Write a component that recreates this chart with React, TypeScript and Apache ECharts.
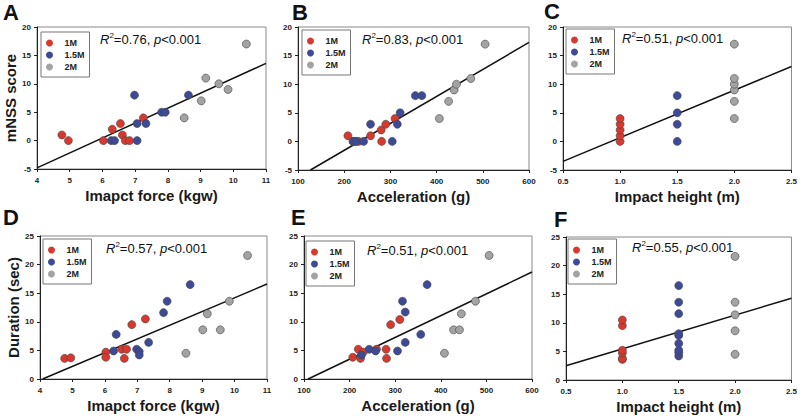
import React, { useEffect, useRef } from 'react';
import * as echarts from 'echarts';

const groups = ['1M', '1.5M', '2M'];
const groupColors = ['#d8392e', '#3d4a98', '#a3a3a3'];

// A: impact force vs mNSS
const forceMnss1M = [[4.76, 1], [4.96, 0], [6.03, 0], [6.3, 2], [6.55, 3], [6.61, 1], [6.7, 0], [6.83, 0], [7.25, 4]];
const forceMnss15M = [[6.27, 0], [6.37, 0], [6.98, 8], [7.06, 3], [7.06, 0], [7.33, 3], [7.81, 5], [7.92, 5], [8.63, 8]];
const forceMnss2M = [[8.5, 4], [9.02, 7], [9.16, 11], [9.56, 10], [9.84, 9], [10.4, 17]];
// B: acceleration vs mNSS
const accMnss1M = [[208, 1], [219, 0], [224, 0], [231, 0], [257, 1], [280, 2], [281, 0], [290, 3], [310, 4]];
const accMnss15M = [[220, 0], [226, 0], [242, 0], [257, 3], [304, 0], [315, 3], [321, 5], [354, 8], [368, 8]];
const accMnss2M = [[406, 4], [426, 7], [438, 9], [443, 10], [474, 11], [505, 17]];
// C: impact height vs mNSS
const hMnss1M = [[1, 0], [1, 1], [1, 2], [1, 3], [1, 4]];
const hMnss15M = [[1.5, 0], [1.5, 3], [1.5, 5], [1.5, 8]];
const hMnss2M = [[2, 4], [2, 7], [2, 9], [2, 10], [2, 11], [2, 17]];
// D: impact force vs duration
const forceDur1M = [[4.76, 3.6], [4.95, 3.7], [6.03, 4.7], [6.03, 3.8], [6.52, 5.2], [6.67, 5.2], [6.6, 3.6], [6.83, 9.5], [7.25, 10.5]];
const forceDur15M = [[6.27, 4.9], [6.35, 7.8], [6.98, 5.2], [7.06, 4.8], [7.06, 4.2], [7.35, 6.4], [7.81, 11.6], [7.92, 13.6], [8.63, 16.5]];
const forceDur2M = [[8.5, 4.5], [9.02, 8.6], [9.16, 11.4], [9.56, 8.6], [9.84, 13.6], [10.4, 21.6]];
// E: acceleration vs duration
const accDur1M = [[207, 3.8], [219, 5.2], [224, 3.6], [230, 4.7], [259, 5.2], [280, 5.2], [281, 3.6], [290, 9.5], [310, 10.4]];
const accDur15M = [[226, 4.2], [243, 5.2], [257, 4.9], [305, 4.9], [316, 13.6], [322, 11.7], [322, 6.4], [356, 7.8], [370, 16.5]];
const accDur2M = [[408, 4.5], [428, 8.6], [441, 8.6], [445, 11.4], [476, 13.6], [506, 21.6]];
// F: impact height vs duration
const hDur1M = [[1, 3.6], [1, 3.8], [1, 4.7], [1, 5.2], [1, 9.5], [1, 10.5]];
const hDur15M = [[1.5, 4.2], [1.5, 4.8], [1.5, 5.2], [1.5, 6.4], [1.5, 7.8], [1.5, 8.1], [1.5, 11.6], [1.5, 13.6], [1.5, 16.5]];
const hDur2M = [[2, 4.5], [2, 8.6], [2, 11.4], [2, 13.6], [2, 21.6]];

// Regression lines (endpoints)
const fitA = [[4, -4.8], [11, 13.6]];
const fitB = [[127, -5], [600, 17.3]];
const fitC = [[0.5, -3.5], [2.5, 13.1]];
const fitD = [[4.08, 0], [11, 16.6]];
const fitE = [[109, 0], [600, 18.7]];
const fitF = [[0.5, 2.5], [2.5, 14.3]];

const panelLetters = ['A', 'B', 'C', 'D', 'E', 'F'];
const r2Values = ['0.76', '0.83', '0.51', '0.57', '0.51', '0.55'];
const xNames = ['Imapct force (kgw)', 'Acceleration (g)', 'Impact height (m)'];
const yNames = ['mNSS score', 'Duration (sec)'];
const xRanges = [[4, 11, 1], [100, 600, 100], [0.5, 2.5, 0.5]];
const yRanges = [[-5, 20, 5], [0, 25, 5]];

const panelData = [
  [forceMnss1M, forceMnss15M, forceMnss2M, fitA],
  [accMnss1M, accMnss15M, accMnss2M, fitB],
  [hMnss1M, hMnss15M, hMnss2M, fitC],
  [forceDur1M, forceDur15M, forceDur2M, fitD],
  [accDur1M, accDur15M, accDur2M, fitE],
  [hDur1M, hDur15M, hDur2M, fitF],
];

const grids = [
  { left: 37, top: 27, width: 229, height: 142 },
  { left: 298, top: 27, width: 231, height: 143 },
  { left: 563, top: 27, width: 230, height: 143 },
  { left: 40, top: 236, width: 227, height: 143 },
  { left: 304, top: 236, width: 228, height: 143 },
  { left: 566, top: 237, width: 230, height: 143 },
];
const legendPos = [
  [41, 32], [302, 30], [566, 29], [43, 239], [306, 241], [568, 239],
];
const letterPos = [
  [3, 12], [292, 12], [544, 11], [3, 217], [291, 217], [554, 219],
];
const r2Pos = [
  [100, 39], [362, 39], [622, 38], [106, 248], [367, 250], [632, 247],
];

const FONT = 'Arial, "Liberation Sans", Helvetica, sans-serif';

export default function App() {
  const ref = useRef<HTMLDivElement>(null);
  useEffect(() => {
    if (!ref.current) return;
    const chart = echarts.init(ref.current, null, { renderer: 'svg' });
    const xAxis: any[] = [];
    const yAxis: any[] = [];
    const series: any[] = [];
    const legend: any[] = [];
    const graphic: any[] = [];
    grids.forEach((g, i) => {
      const col = i % 3;
      const row = Math.floor(i / 3);
      const [xmin, xmax, xint] = xRanges[col];
      const [ymin, ymax, yint] = yRanges[row];
      xAxis.push({
        type: 'value', gridIndex: i, min: xmin, max: xmax, interval: xint,
        name: xNames[col], nameLocation: 'middle', nameGap: 19,
        nameTextStyle: { fontFamily: FONT, fontSize: 15, fontWeight: 'bold', color: '#1a1a1a' },
        axisLine: { show: true, onZero: false, lineStyle: { color: '#222', width: 1 } },
        axisTick: { show: true, length: 3, lineStyle: { color: '#222' } },
        axisLabel: {
          fontFamily: FONT, fontSize: 8, fontWeight: 'bold', color: '#222', margin: 7,
          formatter: col === 2 ? (v: number) => v.toFixed(1) : undefined,
        },
        splitLine: { show: false },
      });
      yAxis.push({
        type: 'value', gridIndex: i, min: ymin, max: ymax, interval: yint,
        name: col === 0 ? yNames[row] : '', nameLocation: 'middle', nameGap: 19,
        nameTextStyle: { fontFamily: FONT, fontSize: 15, fontWeight: 'bold', color: '#1a1a1a' },
        axisLine: { show: true, onZero: false, lineStyle: { color: '#222', width: 1 } },
        axisTick: { show: true, length: 3, lineStyle: { color: '#222' } },
        axisLabel: { fontFamily: FONT, fontSize: 8, fontWeight: 'bold', color: '#222', margin: 6 },
        splitLine: { show: false },
      });
      const d = panelData[i];
      series.push({
        type: 'line', xAxisIndex: i, yAxisIndex: i, data: d[3], symbol: 'none',
        lineStyle: { color: '#111', width: 1.5 }, z: 1, silent: true, clip: true,
      });
      for (let k = 0; k < 3; k++) {
        series.push({
          type: 'scatter', name: groups[k], xAxisIndex: i, yAxisIndex: i, data: d[k],
          symbol: 'circle', symbolSize: 8,
          itemStyle: { color: groupColors[k], borderColor: '#444', borderWidth: 0.6, opacity: 1 },
          z: 3,
        });
      }
      legend.push({
        data: groups, orient: 'vertical', left: legendPos[i][0], top: legendPos[i][1],
        padding: [6, 5, 5, 5], itemGap: 2, itemWidth: 20, itemHeight: 7, icon: 'circle',
        itemStyle: { borderWidth: 0 },
        borderColor: '#777', borderWidth: 1, backgroundColor: '#fff',
        textStyle: { fontFamily: FONT, fontSize: 9, fontWeight: 'bold', color: '#222', lineHeight: 10 },
        selectedMode: false,
      });
      graphic.push({
        type: 'text', x: letterPos[i][0], y: letterPos[i][1],
        style: {
          text: panelLetters[i], fontFamily: FONT, fontSize: 22, fontWeight: 'bold',
          fill: '#111', verticalAlign: 'middle', align: 'left',
        },
      });
      graphic.push({
        type: 'text', x: r2Pos[i][0], y: r2Pos[i][1],
        style: {
          text: `{i|R}{s|2}{n|=${r2Values[i]}, }{i|p}{n|<0.001}`,
          verticalAlign: 'middle', align: 'left',
          rich: {
            i: { fontFamily: FONT, fontSize: 13, fontStyle: 'italic', fill: '#111', lineHeight: 15 },
            n: { fontFamily: FONT, fontSize: 13, fill: '#111', lineHeight: 15 },
            s: { fontFamily: FONT, fontSize: 8, fill: '#111', lineHeight: 8, verticalAlign: 'top' },
          },
        },
      });
    });
    chart.setOption({
      animation: false,
      backgroundColor: '#fff',
      grid: grids.map((g) => ({ ...g, show: true, borderColor: '#888', borderWidth: 1, backgroundColor: 'transparent' })),
      xAxis, yAxis, series, legend, graphic,
    });
    return () => chart.dispose();
  }, []);
  return <div ref={ref} style={{ position: 'absolute', left: 0, top: 0, width: 800, height: 416 }} />;
}
